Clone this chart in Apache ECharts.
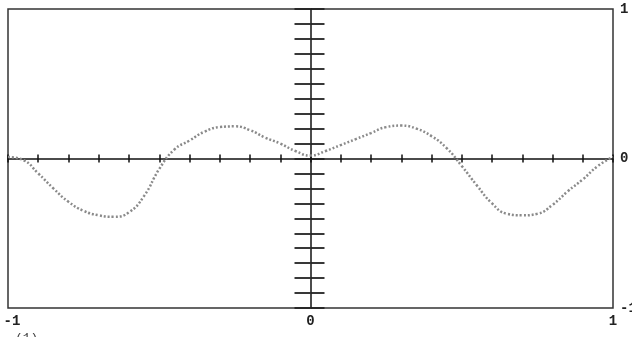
<!DOCTYPE html>
<html>
<head>
<meta charset="utf-8">
<script src="https://cdn.jsdelivr.net/npm/echarts@6/dist/echarts.min.js"></script>
<style>
html,body{margin:0;padding:0;background:#fff;}
#c{width:632px;height:337px;}
</style>
</head>
<body>
<div id="c"></div>
<script>
// x positions of the sampled curve
var xValues = [-1.00,-0.95,-0.90,-0.85,-0.80,-0.75,-0.70,-0.65,-0.60,-0.55,-0.50,-0.45,-0.40,-0.35,-0.30,-0.25,-0.20,-0.15,-0.10,-0.05,
               0.00,0.05,0.10,0.15,0.20,0.25,0.30,0.35,0.40,0.45,0.50,0.55,0.60,0.65,0.70,0.75,0.80,0.85,0.90,0.95,1.00];
// curve values
var yValues = [0.01,-0.01,-0.10,-0.20,-0.29,-0.35,-0.38,-0.39,-0.36,-0.25,-0.07,0.06,0.12,0.18,0.21,0.215,0.19,0.14,0.10,0.05,
               0.02,0.05,0.09,0.13,0.17,0.21,0.22,0.20,0.15,0.07,-0.05,-0.18,-0.30,-0.37,-0.38,-0.37,-0.31,-0.22,-0.14,-0.05,0.01];
var xTickLabels = ['-1','0','1'];
var yTickLabels = ['-1','0','1'];
var caption = '(1)';

var pts = xValues.map(function(x,i){return [x,yValues[i]];});
var labelFont = {fontFamily:'Liberation Mono', fontWeight:'bold', fontSize:14, color:'#222'};
function lab(list){return function(v){var r=Math.round(v); return list.indexOf(String(r))>=0?String(r):'';};}
function xlab(v){
  var s = lab(xTickLabels)(v);
  if (s === xTickLabels[0]) return '{m|' + s + '}';
  return s;
}

var chart = echarts.init(document.getElementById('c'), null, {renderer:'canvas'});
chart.setOption({
  animation:false,
  title:{text:caption,left:10,top:327,textStyle:{fontFamily:'Liberation Mono',fontSize:13,fontWeight:'normal',color:'#444'}},
  grid:{left:8,right:19,top:9,bottom:29,outerBoundsMode:'none',containLabel:false,show:true,borderColor:'#333',borderWidth:1.5,backgroundColor:'transparent'},
  xAxis:[
    {type:'value',min:-1,max:1,interval:1,position:'bottom',
     axisLine:{show:false,onZero:false},axisTick:{show:false},splitLine:{show:false},
     axisLabel:Object.assign({margin:6,formatter:xlab,
       rich:{m:{fontFamily:'Liberation Mono',fontWeight:'bold',fontSize:14,color:'#222',padding:[0,0,0,8]}}},labelFont)},
    {type:'value',min:-1,max:1,interval:0.1,position:'bottom',
     axisLine:{show:true,onZero:true,onZeroAxisIndex:0,lineStyle:{color:'#111',width:1.5}},
     axisTick:{show:true,inside:false,length:4,lineStyle:{color:'#111',width:1.5}},
     axisLabel:{show:false},splitLine:{show:false}},
    {type:'value',min:-1,max:1,interval:0.1,position:'bottom',
     axisLine:{show:false,onZero:true,onZeroAxisIndex:0},
     axisTick:{show:true,inside:true,length:4,lineStyle:{color:'#111',width:1.5}},
     axisLabel:{show:false},splitLine:{show:false}}
  ],
  yAxis:[
    {type:'value',min:-1,max:1,interval:1,position:'right',
     axisLine:{show:false,onZero:false},axisTick:{show:false},splitLine:{show:false},
     axisLabel:Object.assign({margin:7,formatter:lab(yTickLabels),align:'left'},labelFont)},
    {type:'value',min:-1,max:1,interval:0.1,position:'left',
     axisLine:{show:true,onZero:true,onZeroAxisIndex:0,lineStyle:{color:'#111',width:1.5}},
     axisTick:{show:true,inside:false,length:16,lineStyle:{color:'#222',width:1.8}},
     axisLabel:{show:false},splitLine:{show:false}},
    {type:'value',min:-1,max:1,interval:0.1,position:'left',
     axisLine:{show:false,onZero:true,onZeroAxisIndex:0},
     axisTick:{show:true,inside:true,length:14,lineStyle:{color:'#222',width:1.8}},
     axisLabel:{show:false},splitLine:{show:false}}
  ],
  series:[{
    type:'line',xAxisIndex:0,yAxisIndex:0,data:pts,smooth:true,showSymbol:false,
    lineStyle:{color:'#8a8a8a',width:2.5,type:[2,2]},z:5
  }]
});
</script>
</body>
</html>
